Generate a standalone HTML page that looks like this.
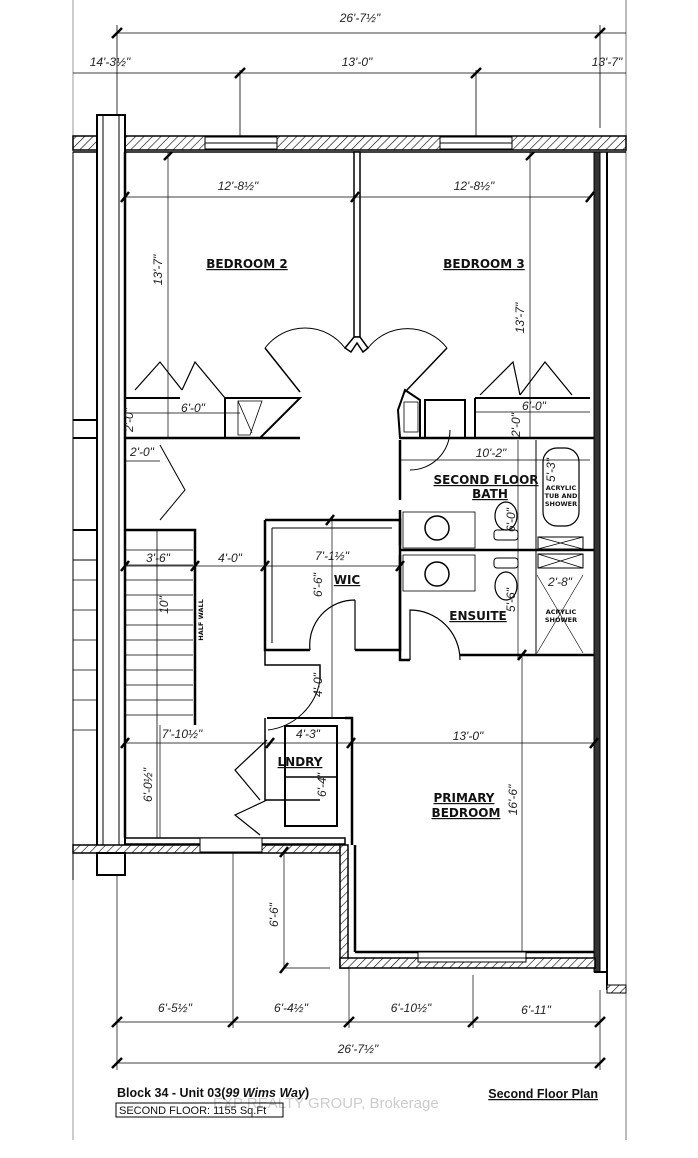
<!DOCTYPE html>
<html><head><meta charset="utf-8"><style>
html,body{margin:0;padding:0;background:#fff;}
svg{display:block;}
.d{font-family:"Liberation Sans Narrow","Liberation Sans",sans-serif;font-style:italic;font-size:12px;fill:#222;}
.r{font-family:"DejaVu Sans","Liberation Sans",sans-serif;font-weight:bold;font-size:12px;fill:#111;}
.s{font-family:"DejaVu Sans","Liberation Sans",sans-serif;font-weight:bold;font-size:6.5px;fill:#111;}
</style></head><body>
<svg width="698" height="1158" viewBox="0 0 698 1158" xmlns="http://www.w3.org/2000/svg">
<defs>
<pattern id="h" width="6" height="6" patternUnits="userSpaceOnUse" patternTransform="rotate(45)">
<rect width="6" height="6" fill="#fff"/><line x1="0" y1="0" x2="0" y2="6" stroke="#000" stroke-width="1.2"/></pattern>
</defs>
<rect width="698" height="1158" fill="#fff"/>
<!-- page frame -->
<line x1="73" y1="0" x2="73" y2="1140" stroke="#999" stroke-width="1"/>
<line x1="626" y1="0" x2="626" y2="1140" stroke="#777" stroke-width="1"/>
<g stroke="#000" fill="none">
<!-- top dims -->
<line x1="117" y1="33" x2="626" y2="33" stroke-width="0.8"/>
<line x1="117" y1="25" x2="117" y2="130" stroke-width="0.8"/>
<line x1="600" y1="25" x2="600" y2="128" stroke-width="0.8"/>
<line x1="73" y1="73" x2="626" y2="73" stroke-width="0.8"/>
<line x1="240" y1="70" x2="240" y2="136" stroke-width="0.8"/>
<line x1="476" y1="70" x2="476" y2="136" stroke-width="0.8"/>
<g stroke-width="2.5">
<line x1="112" y1="38" x2="122" y2="28"/><line x1="595" y1="38" x2="605" y2="28"/>
<line x1="235" y1="78" x2="245" y2="68"/><line x1="471" y1="78" x2="481" y2="68"/>
</g>
<!-- top wall -->
<rect x="73" y="136" width="553" height="14" fill="url(#h)" stroke-width="1.5"/>
<rect x="205" y="137" width="72" height="12" fill="#fff" stroke-width="1"/>
<line x1="205" y1="143" x2="277" y2="143" stroke-width="1"/>
<rect x="440" y="137" width="72" height="12" fill="#fff" stroke-width="1"/>
<line x1="440" y1="143" x2="512" y2="143" stroke-width="1"/>
<line x1="73" y1="152" x2="626" y2="152" stroke-width="1.5"/>
<!-- left column -->
<rect x="97" y="115" width="28" height="760" fill="#fff" stroke-width="2"/>
<rect x="103" y="115" width="16" height="755" stroke-width="1"/>
<line x1="125" y1="152" x2="125" y2="838" stroke-width="2.5"/>
<!-- right wall -->
<rect x="594" y="152" width="6" height="820" fill="#333" stroke-width="1"/>
<line x1="607" y1="152" x2="607" y2="990" stroke-width="2"/>
<line x1="73" y1="152" x2="73" y2="880" stroke-width="1"/>
<!-- left neighbour walls -->
<line x1="73" y1="420" x2="97" y2="420" stroke-width="2"/>
<line x1="73" y1="438" x2="97" y2="438" stroke-width="2"/>
<line x1="73" y1="530" x2="97" y2="530" stroke-width="2"/>
<line x1="73" y1="560" x2="97" y2="560" stroke-width="1"/>
<g stroke-width="0.8"><line x1="73" y1="580" x2="97" y2="580"/><line x1="73" y1="610" x2="97" y2="610"/><line x1="73" y1="640" x2="97" y2="640"/><line x1="73" y1="670" x2="97" y2="670"/><line x1="73" y1="700" x2="97" y2="700"/><line x1="73" y1="730" x2="97" y2="730"/></g>
<!-- bedroom partition -->
<rect x="354" y="152" width="6" height="185" fill="#fff" stroke-width="1.5"/>
<path d="M345 348 L354 337 L360 337 L368 348 L363 352 L357 343 L351 352 Z" fill="#fff" stroke-width="1.5"/>
<!-- bedroom doors -->
<path d="M265 348 L300 392" stroke-width="1.5"/><path d="M265 348 A50 50 0 0 1 345 348" stroke-width="1"/>
<path d="M447 348 L405 392" stroke-width="1.5"/><path d="M368 348 A50 50 0 0 1 447 348" stroke-width="1"/>
<!-- closets row -->
<line x1="125" y1="398" x2="180" y2="398" stroke-width="2"/>
<line x1="125" y1="438" x2="300" y2="438" stroke-width="2.5"/>
<path d="M225 398 L300 398 L260 438 L225 438 Z" stroke-width="2"/>
<path d="M238 401 L262 401 L250 435 L238 435 Z M238 401 L252 433" stroke-width="0.8"/>
<path d="M135 390 L160 362 L182 390 M182 390 L195 362 L225 398" stroke-width="1.2"/>
<path d="M480 395 L513 362 L520 395 M520 395 L545 362 L572 395" stroke-width="1.2"/>
<line x1="475" y1="398" x2="590" y2="398" stroke-width="2"/>
<line x1="475" y1="398" x2="475" y2="438" stroke-width="2"/>
<line x1="400" y1="438" x2="594" y2="438" stroke-width="2.5"/>
<path d="M405 390 L420 400 L420 438 L400 438 L398 410 Z" stroke-width="2"/>
<rect x="404" y="402" width="14" height="30" stroke-width="0.8"/>
<rect x="425" y="400" width="40" height="38" stroke-width="2"/>
<!-- hall door / linen -->
<path d="M160 445 L185 490 L160 520" stroke-width="1"/>
<path d="M125 530 L195 530 L195 725" stroke-width="2.5"/>
<!-- stairs -->
<g stroke-width="0.8">
<line x1="125" y1="550" x2="193" y2="550"/><line x1="125" y1="565" x2="193" y2="565"/><line x1="125" y1="580" x2="193" y2="580"/><line x1="125" y1="595" x2="193" y2="595"/><line x1="125" y1="610" x2="193" y2="610"/><line x1="125" y1="625" x2="193" y2="625"/><line x1="125" y1="640" x2="193" y2="640"/><line x1="125" y1="655" x2="193" y2="655"/><line x1="125" y1="670" x2="193" y2="670"/><line x1="125" y1="685" x2="193" y2="685"/><line x1="125" y1="700" x2="193" y2="700"/><line x1="125" y1="715" x2="193" y2="715"/>
<line x1="157" y1="530" x2="157" y2="838"/>
</g>
<!-- WIC -->
<path d="M265 520 L400 520 L400 545 M265 520 L265 650 L310 650 M355 650 L400 650 L400 555" stroke-width="2.5"/>
<path d="M272 528 L392 528 M272 528 L272 643" stroke-width="1"/>
<path d="M355 650 L355 600 M310 650 A45 45 0 0 1 355 600" stroke-width="1.2"/>
<path d="M265 650 L265 665 L320 665 L320 680 M320 800 L265 800 L265 718" stroke-width="1.5"/>
<path d="M320 680 A60 60 0 0 1 268 730" stroke-width="1"/>
<!-- bath -->
<path d="M400 440 L400 500 M400 510 L400 660 L410 660" stroke-width="2.5"/>
<line x1="400" y1="550" x2="594" y2="550" stroke-width="2.5"/>
<line x1="460" y1="655" x2="594" y2="655" stroke-width="2.5"/>
<path d="M410 470 A40 40 0 0 0 450 430" stroke-width="1"/>
<rect x="403" y="512" width="72" height="36" stroke-width="0.8"/>
<rect x="403" y="555" width="72" height="36" stroke-width="0.8"/>
<circle cx="437" cy="528" r="12" stroke-width="1.5"/><circle cx="437" cy="574" r="12" stroke-width="1.5"/>
<ellipse cx="506" cy="516" rx="11" ry="14" stroke-width="1.2"/><rect x="494" y="530" width="24" height="10" rx="3" stroke-width="1"/>
<ellipse cx="506" cy="586" rx="11" ry="14" stroke-width="1.2"/><rect x="494" y="558" width="24" height="10" rx="3" stroke-width="1"/>
<rect x="543" y="448" width="36" height="78" rx="14" stroke-width="1.2"/>
<line x1="536" y1="440" x2="536" y2="655" stroke-width="1"/>
<rect x="538" y="537" width="45" height="12" stroke-width="1"/><path d="M538 537 L583 549 M583 537 L538 549" stroke-width="0.8"/>
<rect x="538" y="554" width="45" height="14" stroke-width="1"/><path d="M538 554 L583 568 M583 554 L538 568" stroke-width="0.8"/>
<path d="M537 575 L583 653 M583 575 L537 653" stroke-width="0.6"/>
<path d="M410 660 L410 610 A50 50 0 0 1 460 660" stroke-width="1.2"/>
<!-- laundry -->
<rect x="285" y="726" width="52" height="100" stroke-width="2"/>
<line x1="285" y1="777" x2="337" y2="777" stroke-width="1.5"/>
<path d="M345 718 L352 718 L352 845" stroke-width="2.5"/>
<path d="M267 718 L345 718" stroke-width="2"/>
<path d="M267 740 L235 770 L260 800 M267 800 L235 815 L260 835" stroke-width="1.2"/>
<!-- bottom walls -->
<rect x="125" y="838" width="220" height="6" stroke-width="1.5"/>
<rect x="73" y="845" width="272" height="8" fill="url(#h)" stroke-width="1.5"/>
<rect x="200" y="838" width="62" height="14" fill="#fff" stroke-width="1"/>
<rect x="340" y="845" width="8" height="123" fill="url(#h)" stroke-width="1.5"/>
<line x1="355" y1="845" x2="355" y2="952" stroke-width="2.5"/>
<line x1="355" y1="952" x2="594" y2="952" stroke-width="2.5"/>
<rect x="340" y="958" width="255" height="10" fill="url(#h)" stroke-width="1.5"/>
<rect x="418" y="952" width="108" height="10" fill="#fff" stroke-width="1"/>
<line x1="418" y1="958" x2="526" y2="958" stroke-width="1"/>
<rect x="97" y="853" width="28" height="22" fill="#fff" stroke-width="2"/>
<line x1="594" y1="972" x2="607" y2="972" stroke-width="2"/>
<rect x="607" y="985" width="19" height="8" fill="url(#h)" stroke-width="1"/>
<!-- interior dim lines -->
<g stroke-width="0.7">
<line x1="125" y1="197" x2="590" y2="197"/>
<line x1="168" y1="152" x2="168" y2="438"/>
<line x1="530" y1="152" x2="530" y2="438"/>
<line x1="125" y1="413" x2="240" y2="413"/>
<line x1="475" y1="412" x2="590" y2="412"/>
<line x1="125" y1="461" x2="160" y2="461"/>
<line x1="400" y1="460" x2="590" y2="460"/>
<line x1="125" y1="566" x2="400" y2="566"/>
<line x1="332" y1="520" x2="332" y2="718"/>
<line x1="125" y1="743" x2="594" y2="743"/>
<line x1="160" y1="725" x2="160" y2="838"/>
<line x1="522" y1="655" x2="522" y2="952"/>
<line x1="518" y1="440" x2="518" y2="660"/>
<line x1="283" y1="968" x2="330" y2="968"/>
<line x1="284" y1="852" x2="284" y2="968"/>
<line x1="233" y1="852" x2="233" y2="1028"/>
<line x1="349" y1="968" x2="349" y2="1028"/>
<line x1="473" y1="975" x2="473" y2="1028"/>
<line x1="117" y1="875" x2="117" y2="1070"/>
<line x1="600" y1="990" x2="600" y2="1070"/>
<line x1="117" y1="1022" x2="600" y2="1022"/>
<line x1="117" y1="1063" x2="600" y2="1063"/>
</g>
<g stroke-width="2.5">
<line x1="164" y1="160" x2="172" y2="152"/><line x1="526" y1="160" x2="534" y2="152"/>
<line x1="121" y1="202" x2="129" y2="192"/><line x1="351" y1="202" x2="359" y2="192"/><line x1="586" y1="202" x2="594" y2="192"/>
<line x1="121" y1="571" x2="129" y2="561"/><line x1="191" y1="571" x2="199" y2="561"/><line x1="261" y1="571" x2="269" y2="561"/><line x1="396" y1="571" x2="404" y2="561"/>
<line x1="121" y1="748" x2="129" y2="738"/><line x1="266" y1="748" x2="274" y2="738"/><line x1="347" y1="748" x2="355" y2="738"/><line x1="590" y1="748" x2="598" y2="738"/>
<line x1="112" y1="1027" x2="122" y2="1017"/><line x1="228" y1="1027" x2="238" y2="1017"/><line x1="344" y1="1027" x2="354" y2="1017"/><line x1="468" y1="1027" x2="478" y2="1017"/><line x1="595" y1="1027" x2="605" y2="1017"/>
<line x1="112" y1="1068" x2="122" y2="1058"/><line x1="595" y1="1068" x2="605" y2="1058"/>
<line x1="280" y1="973" x2="288" y2="963"/><line x1="280" y1="857" x2="288" y2="847"/>
<line x1="518" y1="660" x2="526" y2="650"/><line x1="326" y1="525" x2="334" y2="515"/>
</g>
</g>
<!-- dimension text -->
<text class="d" x="360" y="22" text-anchor="middle">26'-7½"</text>
<text class="d" x="110" y="66" text-anchor="middle">14'-3½"</text>
<text class="d" x="357" y="66" text-anchor="middle">13'-0"</text>
<text class="d" x="607" y="66" text-anchor="middle">13'-7"</text>
<text class="d" x="238" y="190" text-anchor="middle">12'-8½"</text>
<text class="d" x="474" y="190" text-anchor="middle">12'-8½"</text>
<text class="d" transform="translate(162,270) rotate(-90)" text-anchor="middle">13'-7"</text>
<text class="d" transform="translate(524,318) rotate(-90)" text-anchor="middle">13'-7"</text>
<text class="d" x="193" y="412" text-anchor="middle">6'-0"</text>
<text class="d" x="534" y="410" text-anchor="middle">6'-0"</text>
<text class="d" x="142" y="456" text-anchor="middle">2'-0"</text>
<text class="d" x="491" y="457" text-anchor="middle">10'-2"</text>
<text class="d" x="158" y="562" text-anchor="middle">3'-6"</text>
<text class="d" x="230" y="562" text-anchor="middle">4'-0"</text>
<text class="d" x="332" y="560" text-anchor="middle">7'-1½"</text>
<text class="d" transform="translate(322,585) rotate(-90)" text-anchor="middle">6'-6"</text>
<text class="d" transform="translate(322,685) rotate(-90)" text-anchor="middle">4'-0"</text>
<text class="d" x="182" y="738" text-anchor="middle">7'-10½"</text>
<text class="d" x="308" y="738" text-anchor="middle">4'-3"</text>
<text class="d" x="468" y="740" text-anchor="middle">13'-0"</text>
<text class="d" transform="translate(152,785) rotate(-90)" text-anchor="middle">6'-0½"</text>
<text class="d" transform="translate(326,785) rotate(-90)" text-anchor="middle">6'-4"</text>
<text class="d" transform="translate(517,800) rotate(-90)" text-anchor="middle">16'-6"</text>
<text class="d" transform="translate(278,915) rotate(-90)" text-anchor="middle">6'-6"</text>
<text class="d" transform="translate(515,520) rotate(-90)" text-anchor="middle">6'-0"</text>
<text class="d" transform="translate(515,600) rotate(-90)" text-anchor="middle">5'-6"</text>
<text class="d" transform="translate(555,470) rotate(-90)" text-anchor="middle">5'-3"</text>
<text class="d" x="560" y="586" text-anchor="middle">2'-8"</text>
<text class="d" transform="translate(133,420) rotate(-90)" text-anchor="middle">2'-0"</text>
<text class="d" transform="translate(520,425) rotate(-90)" text-anchor="middle">2'-0"</text>
<text class="d" transform="translate(168,605) rotate(-90)" text-anchor="middle">10"</text>
<text class="d" x="175" y="1012" text-anchor="middle">6'-5½"</text>
<text class="d" x="291" y="1012" text-anchor="middle">6'-4½"</text>
<text class="d" x="411" y="1012" text-anchor="middle">6'-10½"</text>
<text class="d" x="536" y="1014" text-anchor="middle">6'-11"</text>
<text class="d" x="358" y="1053" text-anchor="middle">26'-7½"</text>
<!-- room labels -->
<text class="r" x="247" y="268" text-anchor="middle" text-decoration="underline">BEDROOM 2</text>
<text class="r" x="484" y="268" text-anchor="middle" text-decoration="underline">BEDROOM 3</text>
<text class="r" x="486" y="484" text-anchor="middle" text-decoration="underline">SECOND FLOOR</text>
<text class="r" x="490" y="498" text-anchor="middle" text-decoration="underline">BATH</text>
<text class="s" x="561" y="490" text-anchor="middle">ACRYLIC</text>
<text class="s" x="561" y="498" text-anchor="middle">TUB AND</text>
<text class="s" x="561" y="506" text-anchor="middle">SHOWER</text>
<text class="r" x="347" y="584" text-anchor="middle" text-decoration="underline">WIC</text>
<text class="r" x="478" y="620" text-anchor="middle" text-decoration="underline">ENSUITE</text>
<text class="s" x="561" y="614" text-anchor="middle">ACRYLIC</text>
<text class="s" x="561" y="622" text-anchor="middle">SHOWER</text>
<text class="s" transform="translate(203,620) rotate(-90)" text-anchor="middle">HALF WALL</text>
<text class="r" x="300" y="766" text-anchor="middle" text-decoration="underline">LNDRY</text>
<text class="r" x="464" y="802" text-anchor="middle" text-decoration="underline">PRIMARY</text>
<text class="r" x="466" y="817" text-anchor="middle" text-decoration="underline">BEDROOM</text>
<!-- footer -->
<text x="213" y="1108" font-family="Liberation Sans,sans-serif" font-size="15" fill="#ccc">EXP REALTY GROUP, Brokerage</text>
<text x="117" y="1097" font-family="Liberation Sans,sans-serif" font-weight="bold" font-size="12.5" fill="#111">Block 34 - Unit 03(<tspan font-style="italic">99 Wims Way</tspan>)</text>
<text x="598" y="1098" text-anchor="end" font-family="Liberation Sans,sans-serif" font-weight="bold" font-size="12.5" fill="#111" text-decoration="underline">Second Floor Plan</text>
<rect x="116" y="1103" width="167" height="14" fill="none" stroke="#000" stroke-width="1"/>
<text x="119" y="1114" font-family="Liberation Sans,sans-serif" font-size="11" fill="#111">SECOND  FLOOR:  1155  Sq.Ft</text>
</svg>
</body></html>
